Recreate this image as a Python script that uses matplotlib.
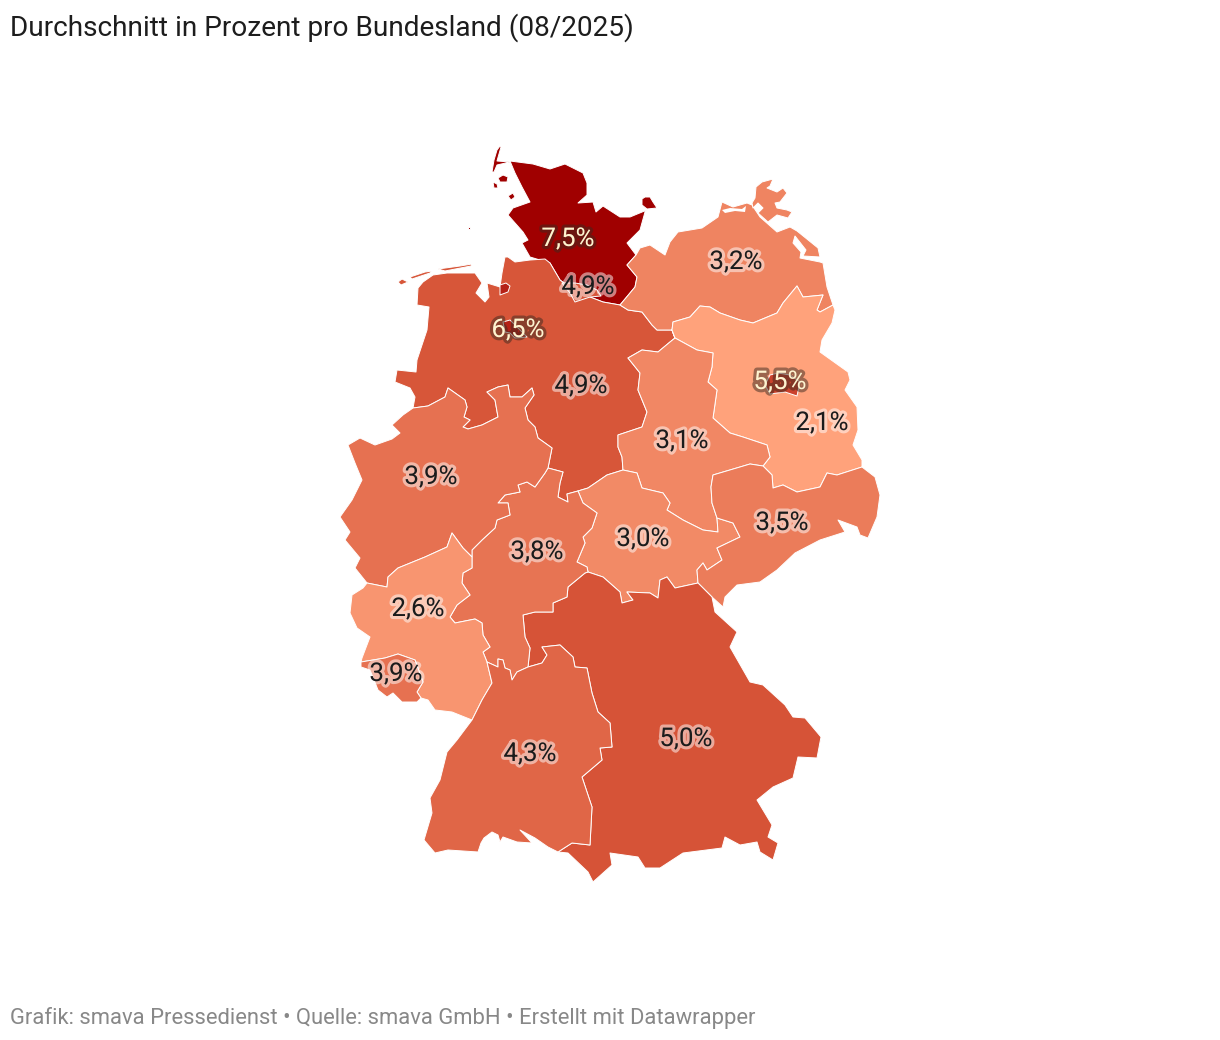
import matplotlib
matplotlib.use("Agg")
import matplotlib.pyplot as plt
import matplotlib.patheffects as pe
from matplotlib.colors import LinearSegmentedColormap, Normalize

plt.rcParams['font.family'] = ['Roboto', 'DejaVu Sans']

TITLE = "Durchschnitt in Prozent pro Bundesland (08/2025)"
FOOTER = "Grafik: smava Pressedienst • Quelle: smava GmbH • Erstellt mit Datawrapper"

states = ["SH", "HH", "NI", "HB", "MV", "BB", "BE", "ST", "NW", "SN", "TH", "HE", "RP", "SL", "BW", "BY"]
values = [7.5, 4.9, 4.9, 6.5, 3.2, 2.1, 5.5, 3.1, 3.9, 3.5, 3.0, 3.8, 2.6, 3.9, 4.3, 5.0]

# Geographic outlines (map projection units), shared borders listed once
SH_NI = [(620,305),(603,302),(590,297),(573,290),(560,280),(550,263)]
NI_COAST = [(545,259),(530,260),(515,262),(508,257),(505,257),(502,273),(500,287),(487,283),(489,297),(485,302),(476,293),(482,283),(475,273),(447,273),(433,275),(423,282),(418,288),(417,305),(429,307),(427,330),(417,360),(416,372),(397,370),(395,382),(410,388),(415,397),(413,408)]
NI_NW = [(413,408),(428,406),(445,397),(448,388),(465,400),(467,407),(464,417),(470,420),(463,427),(468,429),(482,425),(498,417),(495,400),(487,392),(498,387),(508,385),(510,397),(522,397),(532,388),(534,395),(525,408),(528,420),(535,427),(538,438),(552,448),(548,468)]
NI_HE = [(548,468),(563,472),(560,483),(558,497),(568,502),(567,494),(578,491)]
NI_TH = [(578,491),(588,488),(607,475),(623,470)]
NI_ST = [(623,470),(622,457),(618,447),(618,435),(642,427),(647,412),(638,390),(640,373),(628,358),(642,350),(658,352),(670,342),(675,338)]
NI_MV = [(675,338),(672,330),(657,330),(652,325),(642,312),(628,310),(620,305)]
SH_COAST = [(550,263),(530,257),(522,243),(528,240),(523,232),(508,215),(513,208),(530,202),(522,187),(515,173),(510,161),(533,164),(550,169),(565,164),(583,173),(587,183),(587,195),(578,203),(593,202),(596,212),(603,206),(620,217),(630,217),(647,210),(645,212),(640,230),(627,243),(636,255)]
SH_MV = [(636,255),(627,265),(637,277),(635,287),(620,305)]
MV_COAST = [(636,255),(640,248),(650,245),(662,253),(665,255),(670,242),(678,232),(702,228),(718,217),(722,202),(733,207),(747,203),(752,205),(760,217),(777,232),(790,227),(797,231),(818,248),(820,257),(803,256),(806,250),(795,236),(793,243),(801,252),(800,258),(820,262),(823,263),(827,287),(833,305)]
MV_BB = [(833,305),(820,312),(817,310),(823,295),(803,297),(797,286),(783,303),(777,313),(753,323),(740,320),(720,313),(710,307),(700,306),(690,317),(673,322),(672,330),(675,338)]
BB_EAST = [(833,305),(835,310),(832,323),(822,340),(820,352),(848,372),(850,380),(845,390),(857,407),(858,430),(853,445),(862,460),(862,467)]
BB_SN = [(862,467),(837,475),(827,473),(820,487),(797,492),(783,485),(773,488),(772,475),(763,466)]
BB_ST = [(763,466),(770,457),(767,445),(743,437),(730,433),(713,418),(717,390),(708,382),(712,367),(713,353),(697,350),(675,338)]
ST_SN = [(763,466),(750,464),(740,467),(713,475),(711,487),(712,503),(717,518)]
ST_TH = [(717,518),(718,532),(703,530),(683,520),(667,510),(670,503),(663,493),(642,488),(637,473),(623,470)]
TH_SN = [(717,518),(733,523),(740,537),(717,548),(722,560),(707,570),(703,563),(697,570),(698,583)]
TH_BY = [(698,583),(675,588),(667,577),(660,580),(658,598),(650,593),(627,592),(633,600),(622,603),(620,592),(603,577),(588,572)]
TH_HE = [(588,572),(587,567),(577,562),(585,543),(583,537),(592,528),(597,513),(583,503),(578,491)]
SN_EAST = [(862,467),(875,477),(880,495),(877,517),(868,538),(860,535),(857,527),(838,520),(845,532),(820,540),(795,553),(777,570),(760,582),(737,585),(725,597),(723,607),(712,597)]
SN_BY = [(712,597),(698,583)]
BY_EAST = [(712,597),(715,612),(737,632),(730,647),(750,682),(763,685),(785,705),(793,717),(805,718),(821,737),(817,758),(798,757),(793,778),(773,787),(757,800),(772,825),(768,837),(778,843),(773,860),(760,852),(757,842),(740,845),(725,837),(722,848),(683,853),(660,868),(645,868),(638,857),(610,853),(612,865),(593,882),(588,872),(568,853),(558,852)]
BY_BW = [(558,852),(572,843),(590,845),(592,807),(582,777),(602,760),(600,748),(612,747),(610,723),(598,712),(592,693),(587,668),(575,667),(573,657),(560,645),(542,647),(547,655),(542,663),(528,667)]
BY_HE = [(528,667),(530,648),(525,637),(523,615),(535,612),(553,612),(553,603),(567,597),(568,587),(585,573),(588,572)]
HE_BW = [(528,667),(517,672),(512,680),(510,670),(505,668),(503,660),(498,659),(498,667),(487,662)]
HE_RP = [(487,662),(483,652),(490,647),(483,635),(482,623),(475,619),(455,623),(450,617),(457,605),(470,595),(462,583),(463,573),(472,568),(472,557)]
HE_NW = [(472,557),(472,550),(482,540),(495,528),(497,520),(510,515),(508,503),(498,503),(505,495),(520,492),(518,485),(527,482),(535,487),(545,473),(548,468)]
NW_WEST = [(413,408),(403,415),(392,425),(400,433),(392,439),(375,445),(360,438),(348,445),(355,463),(362,480),(352,500),(340,517),(350,532),(345,540),(360,558),(355,568),(367,583)]
NW_RP = [(367,583),(387,587),(388,577),(398,568),(425,557),(447,547),(452,533),(463,548),(472,557)]
RP_WEST = [(367,583),(363,588),(352,595),(350,613),(357,628),(370,637),(362,658),(361,662)]
RP_SL = [(361,662),(385,658),(398,654),(415,660),(423,682),(417,692),(421,698)]
RP_SOUTH = [(421,698),(428,700),(435,710),(452,712),(472,720)]
RP_BW = [(472,720),(482,700),(492,683),(487,662)]
SL_SOUTH = [(361,662),(361,667),(370,670),(378,690),(387,697),(393,693),(402,702),(417,702),(421,698)]
BW_SOUTH = [(472,720),(457,740),(447,752),(440,780),(430,798),(432,813),(424,840),(435,853),(448,850),(478,852),(481,843),(484,838),(492,832),(498,835),(500,842),(503,837),(517,842),(532,843),(520,830),(535,838),(548,847),(558,852)]

FEHMARN = [(642,199),(645,197),(650,197),(653,202),(657,208),(647,209),(642,205)]
SYLT = [(500,146),(497,150),(494,160),(492,172),(494,172),(497,165),(510,162),(497,161),(501,147)]
FOEHR = [(498,178),(503,175),(508,177),(507,182),(500,182)]
AMRUM = [(493,182),(497,184),(498,188),(494,188)]
PELLWORM = [(508,196),(513,193),(515,197),(511,200)]
HELGOLAND = [(468,227),(470,227),(470,229),(468,229)]
RUEGEN = [(752,203),(755,198),(756,187),(762,182),(773,179),(770,186),(767,188),(777,192),(783,188),(787,193),(780,202),(775,203),(777,208),(787,210),(792,212),(788,218),(777,215),(768,222),(758,213),(763,208),(758,203),(753,208)]
FRISIAN_A = [(398,282),(402,279),(408,282),(401,285)]
FRISIAN_B = [(410,277),(425,272),(432,271),(430,273),(412,279)]
FRISIAN_C = [(438,269),(460,266),(472,264),(471,266),(445,271)]
HH_SHAPE = [(562,283),(575,283),(587,285),(597,290),(601,296),(590,297),(575,302),(570,293)]
HB_SHAPE = [(503,322),(510,320),(518,328),(527,337),(515,338),(510,333),(505,332)]
HB_NORTH = [(500,285),(506,283),(510,286),(508,292),(500,295)]
BE_SHAPE = [(765,385),(770,375),(778,373),(790,375),(800,382),(797,396),(785,392),(770,394)]
BODDEN = [(722,210),(730,208),(742,209),(746,206),(745,212),(735,211),(725,213)]


def r(b):
    return b[::-1]


shapes = {
    "SH": [SH_COAST + SH_MV[1:] + SH_NI[1:], FEHMARN, SYLT, FOEHR, AMRUM, PELLWORM, HELGOLAND],
    "NI": [SH_NI + NI_COAST + NI_NW[1:] + NI_HE[1:] + NI_TH[1:] + NI_ST[1:] + NI_MV[1:], FRISIAN_A, FRISIAN_B, FRISIAN_C],
    "MV": [MV_COAST + MV_BB[1:] + NI_MV[1:] + r(SH_MV)[1:], RUEGEN],
    "BB": [BB_EAST + BB_SN[1:] + BB_ST[1:] + r(MV_BB)[1:]],
    "ST": [BB_ST + r(NI_ST)[1:] + r(ST_TH)[1:] + r(ST_SN)[1:]],
    "TH": [ST_TH + r(NI_TH)[1:] + r(TH_HE)[1:] + r(TH_BY)[1:] + r(TH_SN)[1:]],
    "SN": [r(BB_SN) + SN_EAST[1:] + SN_BY[1:] + r(TH_SN)[1:] + r(ST_SN)[1:]],
    "BY": [r(SN_BY) + BY_EAST + BY_BW[1:] + BY_HE[1:] + r(TH_BY)[1:]],
    "HE": [HE_NW + NI_HE[1:] + r(TH_HE)[1:] + r(BY_HE)[1:] + HE_BW[1:] + HE_RP[1:]],
    "NW": [NW_WEST + NW_RP[1:] + HE_NW[1:] + r(NI_NW)[1:]],
    "RP": [RP_WEST + RP_SL[1:] + RP_SOUTH[1:] + RP_BW[1:] + HE_RP[1:] + r(NW_RP)[1:]],
    "SL": [RP_SL + r(SL_SOUTH)[1:]],
    "BW": [HE_BW + r(RP_BW)[1:] + BW_SOUTH[1:] + BY_BW[1:]],
    "HH": [HH_SHAPE],
    "HB": [HB_SHAPE, HB_NORTH],
    "BE": [BE_SHAPE],
}

label_x = [568, 588, 581, 518, 736, 822, 780, 682, 431, 782, 643, 537, 418, 396, 530, 686]
label_y = [239, 287, 386, 330, 262, 423, 382, 441, 477, 523, 539, 552, 609, 674, 754, 739]

cmap = LinearSegmentedColormap.from_list(
    "rates", [(0.0, "#ffa27b"), ((5.0 - 2.1) / 5.4, "#d65337"), (1.0, "#a00000")])
norm = Normalize(min(values), max(values))

fig = plt.figure(figsize=(12.2, 10.4), dpi=100, facecolor="white")
ax = fig.add_axes([0, 0, 1, 1])
ax.set_xlim(0, 1220)
ax.set_ylim(1040, 0)
ax.axis("off")

draw_order = ["SH", "NI", "MV", "BB", "ST", "TH", "SN", "BY", "HE", "NW", "RP", "SL", "BW", "HH", "HB", "BE"]
for st in draw_order:
    col = cmap(norm(values[states.index(st)]))
    for poly in shapes[st]:
        xs, ys = zip(*poly)
        ax.fill(xs, ys, facecolor=col, edgecolor="white", linewidth=0.7, joinstyle="round", zorder=2)

xs, ys = zip(*BODDEN)
ax.fill(xs, ys, facecolor="white", edgecolor="none", zorder=3)

dark_labels = {"SH", "HB", "BE"}
for st, v, x, y in zip(states, values, label_x, label_y):
    txt = f"{v:.1f}%".replace(".", ",")
    if st in dark_labels:
        color, halo, a = "#fff3cf", "#3a2a20", 0.5
    else:
        color, halo, a = "#1b1b1b", "#ffffff", 0.5
    ax.text(x, y, txt, ha="center", va="center", fontsize=18.6, color=color, zorder=5,
            path_effects=[pe.withStroke(linewidth=4.5, foreground=halo, alpha=a)])

ax.text(10, 28, TITLE, ha="left", va="center", fontsize=20.15, color="#1d1d1d")
ax.text(10, 1018, FOOTER, ha="left", va="center", fontsize=15.82, color="#888888")

fig.savefig("out.png", dpi=100)
